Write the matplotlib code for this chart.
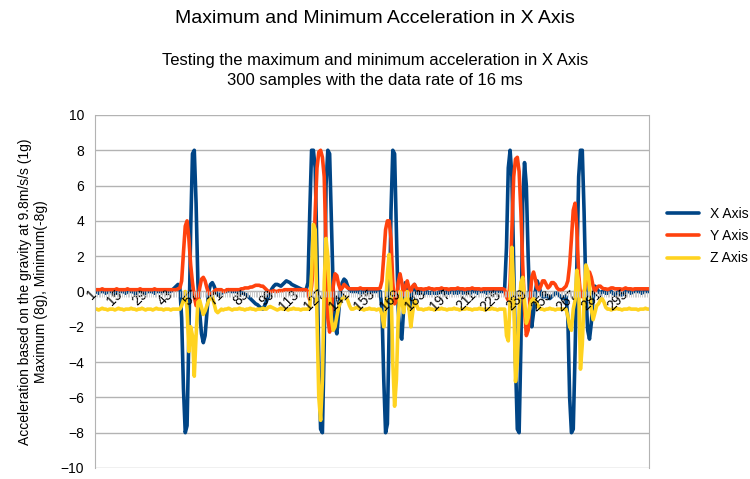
import numpy as np
import matplotlib
matplotlib.use("Agg")
import matplotlib.pyplot as plt
from matplotlib.ticker import FixedLocator, NullFormatter

# acceleration samples (g), one value per sample
x_axis = [
    0.0, 0.0, -0.1, 0.0, 0.0, 0.0, -0.1, 0.0, 0.0, 0.0,
    0.0, -0.1, -0.1, 0.0, 0.0, 0.0, 0.0, -0.1, 0.0, 0.0,
    0.0, 0.0, -0.1, -0.1, 0.0, 0.0, 0.0, 0.0, -0.1, 0.0,
    0.0, 0.0, 0.0, -0.1, 0.0, 0.0, 0.0, 0.0, 0.0, 0.0,
    0.0, 0.0, 0.0, 0.1, 0.2, 0.3, 0.4, 0.2, -1.5, -5.5,
    -8.0, -7.6, -2.5, 3.5, 7.8, 8.0, 5.0, 0.5, -1.2, -2.4,
    -2.9, -2.5, -1.2, 0.0, 0.4, 0.5, 0.3, 0.0, -0.2, -0.2,
    -0.1, 0.0, 0.0, 0.0, 0.1, 0.0, 0.0, 0.0, 0.0, 0.0,
    0.0, -0.1, -0.1, -0.15, -0.2, -0.3, -0.4, -0.5, -0.6, -0.7,
    -0.75, -0.85, -0.95, -1.0, -0.8, -0.55, -0.3, -0.05, 0.15, 0.3,
    0.4, 0.4, 0.35, 0.3, 0.4, 0.5, 0.6, 0.55, 0.5, 0.4,
    0.35, 0.3, 0.25, 0.2, 0.15, 0.1, 0.1, 0.1, 0.5, 4.5,
    8.0, 8.0, 7.0, 2.0, -4.0, -7.8, -8.0, -3.0, 6.0, 8.0,
    7.8, 4.0, 0.0, -2.0, -2.4, -1.2, 0.0, 0.5, 0.7, 0.6,
    0.3, 0.1, 0.0, 0.0, 0.0, 0.0, 0.0, -0.1, 0.0, 0.0,
    0.0, 0.0, 0.0, 0.0, 0.0, 0.0, 0.0, 0.0, 0.0, -1.0,
    -5.0, -8.0, -7.5, -2.0, 4.5, 8.0, 7.8, 3.5, -1.0, -2.5,
    -2.7, -1.0, 0.5, 0.2, -1.0, -0.6, 0.2, 0.4, 0.0, -0.1,
    -0.1, 0.0, -0.1, -0.1, 0.0, -0.1, -0.1, 0.0, -0.1, -0.1,
    -0.1, 0.0, 0.0, -0.1, -0.1, 0.0, -0.1, 0.0, 0.0, -0.1,
    0.0, -0.1, 0.0, 0.0, -0.1, 0.0, 0.0, 0.0, -0.1, 0.0,
    0.0, 0.0, -0.1, 0.0, 0.0, 0.0, 0.0, -0.1, 0.0, 0.0,
    0.0, 0.0, 0.0, 0.0, 0.0, 0.0, 0.0, 0.2, 2.5, 7.0,
    8.0, 6.5, 1.5, -4.0, -7.8, -8.0, -3.0, 5.0, 7.3, 6.0,
    2.0, -1.0, -2.0, -1.2, 0.0, 0.6, 0.3, -0.1, -0.3, -0.3,
    -0.2, -0.3, -0.4, -0.3, -0.2, -0.1, -0.1, -0.2, -0.3, -0.4,
    -0.3, -0.3, -1.5, -6.0, -8.0, -7.8, -3.5, 1.5, 6.5, 8.0,
    8.0, 4.5, 0.0, -2.2, -2.7, -1.8, -0.3, 0.3, 0.2, 0.0,
    -0.1, 0.0, 0.0, -0.1, -0.1, 0.0, 0.0, -0.1, -0.2, -0.1,
    0.0, -0.1, -0.2, -0.1, 0.0, 0.0, 0.0, -0.1, 0.0, 0.0,
    0.0, 0.0, 0.0, -0.1, 0.0, 0.0, 0.0, 0.0,
]

y_axis = [
    0.1, 0.1, 0.1, 0.1, 0.15, 0.1, 0.1, 0.1, 0.1, 0.1,
    0.1, 0.1, 0.15, 0.1, 0.1, 0.1, 0.1, 0.1, 0.15, 0.1,
    0.1, 0.1, 0.1, 0.1, 0.1, 0.15, 0.1, 0.1, 0.1, 0.1,
    0.1, 0.1, 0.1, 0.15, 0.1, 0.1, 0.1, 0.1, 0.1, 0.1,
    0.1, 0.1, 0.1, 0.1, 0.1, 0.1, 0.15, 0.2, 0.6, 2.2,
    3.7, 4.0, 3.0, 1.5, 0.5, -0.3, -0.8, -0.5, 0.2, 0.7,
    0.8, 0.6, 0.2, -0.1, -0.2, -0.1, 0.0, 0.1, 0.1, 0.1,
    0.1, 0.0, 0.0, 0.1, 0.1, 0.1, 0.1, 0.1, 0.1, 0.1,
    0.1, 0.15, 0.15, 0.2, 0.2, 0.2, 0.25, 0.25, 0.3, 0.35,
    0.35, 0.35, 0.3, 0.3, 0.2, 0.1, 0.0, 0.0, 0.0, 0.05,
    0.0, 0.0, 0.05, 0.05, 0.05, 0.1, 0.1, 0.1, 0.1, 0.1,
    0.1, 0.1, 0.1, 0.1, 0.1, 0.1, 0.1, 0.1, 0.0, -0.5,
    0.3, 1.5, 4.5, 7.0, 7.9, 8.0, 7.6, 6.5, 2.5, -1.5,
    -2.3, -1.2, 0.3, 1.0, 0.9, 0.4, 0.1, 0.2, 0.4, 0.3,
    0.2, 0.15, 0.15, 0.15, 0.15, 0.15, 0.15, 0.2, 0.15, 0.15,
    0.15, 0.15, 0.15, 0.15, 0.15, 0.15, 0.15, 0.15, 0.2, 0.6,
    2.0, 3.5, 4.0, 4.0, 3.0, 0.5, -0.7, -0.5, 0.5, 1.0,
    0.5, -0.2, 0.3, 0.6, 0.2, 0.0, 0.3, 0.4, 0.2, 0.1,
    0.15, 0.15, 0.1, 0.15, 0.15, 0.2, 0.15, 0.15, 0.1, 0.15,
    0.15, 0.15, 0.2, 0.15, 0.15, 0.15, 0.1, 0.15, 0.15, 0.15,
    0.15, 0.2, 0.15, 0.15, 0.15, 0.1, 0.15, 0.15, 0.15, 0.2,
    0.15, 0.15, 0.15, 0.15, 0.1, 0.15, 0.15, 0.15, 0.15, 0.15,
    0.15, 0.15, 0.15, 0.15, 0.15, 0.15, 0.15, 0.1, -0.3, -0.5,
    0.5, 3.5, 6.5, 7.5, 7.6, 6.8, 4.5, 1.5, -1.0, -2.5,
    -2.2, -0.5, 0.8, 1.1, 0.7, 0.2, 0.1, 0.3, 0.6, 0.6,
    0.4, 0.2, 0.3, 0.5, 0.5, 0.4, 0.2, 0.1, 0.1, 0.1,
    0.2, 0.3, 0.6, 1.5, 3.0, 4.6, 5.0, 3.5, 1.0, -0.2,
    -0.3, 0.0, 0.4, 0.9, 1.1, 0.8, 0.3, 0.0, 0.2, 0.3,
    0.3, 0.2, 0.15, 0.15, 0.1, 0.15, 0.2, 0.2, 0.15, 0.15,
    0.15, 0.15, 0.1, 0.15, 0.2, 0.15, 0.15, 0.15, 0.1, 0.15,
    0.15, 0.15, 0.15, 0.15, 0.15, 0.15, 0.15, 0.15,
]

z_axis = [
    -1.0, -1.0, -1.05, -1.0, -0.95, -1.0, -1.0, -1.05, -1.0, -1.0,
    -1.0, -1.05, -1.0, -0.95, -1.0, -1.0, -1.05, -1.0, -1.0, -1.0,
    -0.95, -1.0, -1.0, -1.05, -1.0, -1.0, -0.95, -1.0, -1.05, -1.0,
    -1.0, -1.0, -1.05, -1.0, -0.95, -1.0, -1.0, -1.0, -1.05, -1.0,
    -1.0, -1.0, -1.05, -1.0, -1.0, -1.0, -1.0, -1.0, -0.8, -0.5,
    0.0, -1.0, -3.4, -2.0, -2.5, -4.8, -2.5, -0.6, -0.5, -0.9,
    -1.3, -1.1, -0.8, -0.5, -0.35, -0.3, -0.7, -1.1, -1.2, -1.1,
    -1.0, -1.05, -1.0, -1.0, -0.95, -1.0, -1.05, -1.0, -1.0, -1.0,
    -0.95, -1.0, -1.0, -1.05, -1.0, -1.0, -0.95, -1.0, -1.0, -1.05,
    -1.0, -1.0, -1.0, -0.95, -1.0, -1.0, -0.9, -0.85, -0.9, -0.95,
    -1.0, -1.05, -1.0, -0.95, -1.0, -1.0, -1.0, -1.05, -1.0, -1.0,
    -0.95, -1.0, -1.0, -1.0, -1.05, -1.0, -1.0, -1.0, -1.0, -0.9,
    1.0, 3.8, 3.5, -1.5, -6.0, -7.3, -5.0, 0.5, 3.0, 2.0,
    -0.3, -1.6, -2.2, -2.0, -1.4, -0.9, -0.6, -0.4, -0.3, -0.3,
    -0.5, -0.8, -1.0, -1.0, -0.95, -0.9, -0.95, -1.0, -1.0, -1.05,
    -1.0, -1.0, -0.95, -1.0, -1.0, -1.0, -1.05, -1.0, -1.0, -1.3,
    -2.0, -1.0, 1.0, 2.1, 0.5, -4.0, -6.5, -5.0, -1.5, 0.0,
    -0.5, -1.2, -0.5, 0.0, -1.0, -2.0, -1.2, -0.5, -0.7, -1.0,
    -1.0, -1.0, -1.05, -1.0, -1.0, -0.95, -1.0, -1.0, -1.05, -1.0,
    -1.0, -1.0, -0.95, -1.0, -1.0, -1.05, -1.0, -1.0, -1.0, -0.95,
    -1.0, -1.0, -1.05, -1.0, -1.0, -1.0, -0.95, -1.0, -1.0, -1.05,
    -1.0, -1.0, -1.0, -0.95, -1.0, -1.0, -1.05, -1.0, -1.0, -1.0,
    -0.95, -1.0, -1.0, -1.05, -1.0, -1.0, -1.0, -1.0, -2.5, -2.8,
    -0.5, 2.5, 0.0, -5.1, -4.0, -1.0, 0.5, 0.8, -0.5, -1.8,
    -1.5, -0.8, -0.5, -0.4, -0.5, -0.7, -0.9, -1.0, -1.0, -1.05,
    -1.0, -1.0, -0.95, -1.0, -1.0, -1.05, -1.0, -1.0, -1.0, -1.0,
    -1.0, -1.0, -1.4, -2.0, -2.2, -1.0, -0.5, 1.2, 0.5, -4.4,
    -3.0, -0.5, 1.5, 1.2, 0.3, -1.0, -1.6, -1.2, -0.8, -0.7,
    -0.5, -0.4, -0.6, -0.9, -1.0, -1.0, -1.05, -1.0, -1.0, -0.95,
    -1.0, -1.0, -1.05, -1.0, -1.0, -1.0, -0.95, -1.0, -1.0, -1.0,
    -1.0, -1.05, -1.0, -1.0, -1.0, -0.95, -1.0, -1.0,
]

series_names = ["X Axis", "Y Axis", "Z Axis"]
colors = ["#004586", "#ff420e", "#ffd320"]


def main():
    plt.rcParams['font.family'] = ['Liberation Sans', 'DejaVu Sans']

    samples = np.arange(1, len(x_axis) + 1)

    fig = plt.figure(figsize=(7.5, 4.79), dpi=100)
    ax = fig.add_axes([0.1267, 0.023, 0.7387, 0.737])

    for name, vals, col in zip(series_names, [x_axis, y_axis, z_axis], colors):
        ax.plot(samples, vals, color=col, lw=2.6, label=name,
                solid_joinstyle="round", solid_capstyle="round", zorder=2)

    ax.set_xlim(1, len(samples))
    ax.set_ylim(-10, 10)
    ax.set_yticks(np.arange(-10, 11, 2))
    ax.grid(axis="y", color="#b3b3b3", lw=1)
    ax.set_axisbelow(True)

    # category axis crosses at 0
    for s in ["top", "right", "left"]:
        ax.spines[s].set_color("#b3b3b3")
    ax.spines["top"].set_visible(False)
    ax.spines["bottom"].set_position(("data", 0))
    ax.spines["bottom"].set_color("#b3b3b3")
    ax.spines["bottom"].set_zorder(1)

    ax.xaxis.set_major_locator(FixedLocator(np.arange(1, len(samples) + 1, 14)))
    ax.xaxis.set_minor_locator(FixedLocator(samples))
    ax.xaxis.set_minor_formatter(NullFormatter())
    ax.tick_params(axis="x", which="both", length=4.5, color="#c4c4c4", width=0.6)
    ax.tick_params(axis="x", which="major", pad=-4, labelsize=10)
    for lbl in ax.get_xticklabels():
        lbl.set_rotation(45)
        lbl.set_ha("right")
        lbl.set_va("center")
        lbl.set_rotation_mode("anchor")
    ax.xaxis.set_zorder(3)
    ax.tick_params(axis="y", length=0, labelsize=10, pad=8)

    ax.set_ylabel("Acceleration based on the gravity at 9.8m/s/s (1g)\nMaximum (8g), Minimum(-8g)",
                  fontsize=10)
    ax.yaxis.set_label_coords(-0.085, 0.5)

    fig.text(0.5, 0.962, "Maximum and Minimum Acceleration in X Axis", ha="center",
             va="center", fontsize=14)
    fig.text(0.5, 0.852, "Testing the maximum and minimum acceleration in X Axis\n"
             "300 samples with the data rate of 16 ms", ha="center", va="center",
             fontsize=12, linespacing=1.4)

    ax.legend(loc="center left", bbox_to_anchor=(1.01, 0.657), frameon=False,
              fontsize=10, handlelength=2.3, labelspacing=0.6)

    fig.savefig("out.png", dpi=100)


if __name__ == "__main__":
    main()
